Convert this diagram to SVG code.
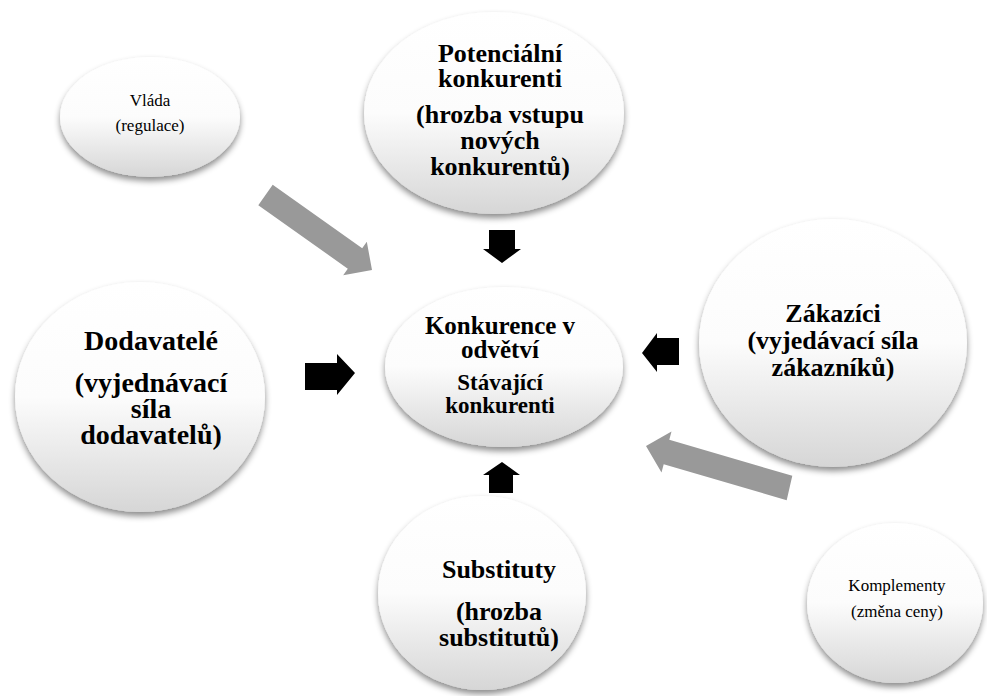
<svg xmlns="http://www.w3.org/2000/svg" width="987" height="696" viewBox="0 0 987 696">
<defs>
<linearGradient id="g" x1="0" y1="0" x2="0" y2="1">
<stop offset="0" stop-color="#ffffff"/>
<stop offset="0.5" stop-color="#fcfcfc"/>
<stop offset="1" stop-color="#d6d6d6"/>
</linearGradient>
<filter id="sh" x="-20%" y="-20%" width="140%" height="150%">
<feGaussianBlur in="SourceAlpha" stdDeviation="3"/>
<feOffset dx="0" dy="4" result="b"/>
<feFlood flood-color="#000" flood-opacity="0.45"/>
<feComposite in2="b" operator="in" result="s"/>
<feMerge><feMergeNode in="s"/><feMergeNode in="SourceGraphic"/></feMerge>
</filter>
<style>
.n{fill:url(#g);filter:url(#sh)}
.b{font-family:"Liberation Serif","Times New Roman",serif;font-weight:bold;text-anchor:middle;fill:#000}
.r{font-family:"Liberation Serif","Times New Roman",serif;text-anchor:middle;fill:#000}
.ba{fill:#000}
.ga{fill:#999}
</style>
</defs>
<rect width="987" height="696" fill="#fff"/>
<g id="vlada">
<ellipse class="n" cx="150" cy="117" rx="90" ry="60"/>
<text class="r" font-size="17" x="150" y="106">Vláda</text>
<text class="r" font-size="17" x="150" y="131">(regulace)</text>
</g>
<g id="potencialni">
<ellipse class="n" cx="494" cy="113" rx="130" ry="101"/>
<text class="b" font-size="26" x="500" y="62">Potenciální</text>
<text class="b" font-size="26" x="500" y="87">konkurenti</text>
<text class="b" font-size="26" x="500" y="123">(hrozba vstupu</text>
<text class="b" font-size="26" x="500" y="149">nových</text>
<text class="b" font-size="26" x="500" y="175">konkurentů)</text>
</g>
<g id="dodavatele">
<ellipse class="n" cx="140" cy="397" rx="125" ry="115"/>
<text class="b" font-size="28" x="151" y="350">Dodavatelé</text>
<text class="b" font-size="28" x="151" y="392">(vyjednávací</text>
<text class="b" font-size="28" x="151" y="418">síla</text>
<text class="b" font-size="28" x="151" y="444">dodavatelů)</text>
</g>
<g id="konkurence">
<ellipse class="n" cx="504" cy="367" rx="119" ry="80"/>
<text class="b" font-size="25" x="500" y="334">Konkurence v</text>
<text class="b" font-size="25" x="500" y="358">odvětví</text>
<text class="b" font-size="23" x="500" y="390">Stávající</text>
<text class="b" font-size="23" x="500" y="413">konkurenti</text>
</g>
<g id="zakaznici">
<ellipse class="n" cx="833" cy="343" rx="134" ry="124"/>
<text class="b" font-size="26" x="833" y="322">Zákazíci</text>
<text class="b" font-size="26" x="833" y="349">(vyjedávací síla</text>
<text class="b" font-size="26" x="833" y="376">zákazníků)</text>
</g>
<g id="substituty">
<ellipse class="n" cx="482" cy="593" rx="104" ry="97"/>
<text class="b" font-size="26" x="499" y="578">Substituty</text>
<text class="b" font-size="26" x="499" y="620">(hrozba</text>
<text class="b" font-size="26" x="499" y="646">substitutů)</text>
</g>
<g id="komplementy">
<ellipse class="n" cx="895" cy="603" rx="88" ry="80"/>
<text class="r" font-size="17" x="897" y="591">Komplementy</text>
<text class="r" font-size="17" x="897" y="617">(změna ceny)</text>
</g>
<g id="connectors">
<polygon class="ba" points="489,230 515,230 515,249 521,249 502,263 483,249 489,249"/>
<polygon class="ba" points="305,363 337,363 337,354 355,373 337,395 337,390 305,390"/>
<polygon class="ba" points="679,338 657,338 657,333 642,353 657,372 657,365 679,365"/>
<polygon class="ba" points="489,493 513,493 513,475 520,475 502,462 483,475 489,475"/>
<polygon class="ga" points="272.7,184.8 362.2,248.3 366.8,241.7 372,270 343.2,275.3 347.8,268.7 258.3,205.2"/>
<polygon class="ga" points="646,446 671.5,431.5 669.3,439.8 792.3,475.8 786.7,500.2 663.7,464.2 661.5,472.5"/>
</g>
</svg>
